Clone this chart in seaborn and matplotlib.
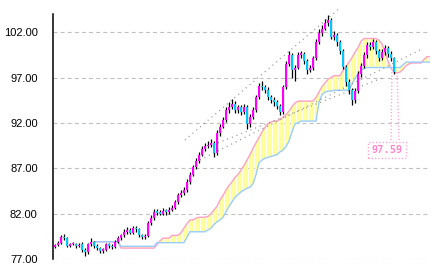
import matplotlib
matplotlib.use("Agg")
import matplotlib.pyplot as plt
import seaborn as sns
import numpy as np
import pandas as pd

# ---------------- data ----------------
closes = [78.5, 78.8, 79.4, 79.3, 78.4, 78.6, 78.7, 78.4, 78.5, 78.0,
          77.8, 78.6, 78.9, 78.4, 78.2, 77.9, 78.0, 78.6, 78.4, 78.3,
          78.9, 79.3, 79.6, 80.0, 80.2, 79.9, 80.4, 80.3, 79.6, 79.4,
          79.5, 81.0, 81.5, 82.2, 82.1, 82.0, 82.3, 82.2, 82.4, 82.6,
          83.3, 84.0, 84.3, 84.6, 85.5, 86.3, 87.1, 87.8, 88.5, 89.1,
          89.4, 89.6, 89.8, 88.7, 90.9, 91.6, 92.3, 93.4, 93.8, 94.1,
          93.4, 93.7, 93.2, 93.8, 91.9, 92.7, 93.4, 94.8, 96.1, 95.9,
          95.6, 94.8, 94.5, 94.3, 93.9, 93.2, 95.9, 98.5, 99.5, 97.8,
          98.1, 99.5, 99.6, 98.8, 97.8, 98.0, 99.1, 100.9, 101.9, 102.4,
          103.0, 103.3, 101.5, 101.7, 100.9, 99.9, 98.2, 96.5, 95.6, 94.5,
          95.5, 97.4, 98.3, 99.5, 100.6, 100.4, 100.9, 99.9, 99.1, 99.8,
          100.3, 99.6, 99.1, 97.59]
opens = [78.3, 78.5, 78.8, 79.4, 79.3, 78.4, 78.6, 78.7, 78.4, 78.6,
         78.0, 77.8, 78.6, 78.9, 78.4, 78.2, 77.9, 78.0, 78.6, 78.4,
         78.3, 78.9, 79.3, 79.6, 80.0, 80.2, 79.9, 80.4, 80.3, 79.6,
         79.4, 79.5, 81.0, 81.5, 82.2, 82.1, 82.0, 82.3, 82.2, 82.4,
         82.6, 83.3, 84.0, 84.3, 84.6, 85.5, 86.3, 87.1, 87.8, 88.5,
         89.1, 89.4, 89.6, 89.8, 88.7, 90.9, 91.6, 92.3, 93.4, 93.8,
         94.1, 93.4, 93.7, 93.2, 93.8, 91.9, 92.7, 93.4, 94.8, 96.1,
         95.9, 95.6, 94.8, 94.5, 94.3, 93.9, 93.2, 95.9, 98.5, 99.5,
         97.8, 98.1, 99.5, 99.6, 98.8, 97.8, 98.0, 99.1, 100.9, 101.9,
         102.4, 103.0, 103.3, 101.5, 101.7, 100.9, 99.9, 98.2, 96.5, 95.6,
         94.5, 95.5, 97.4, 98.3, 99.5, 100.6, 100.4, 100.9, 99.9, 99.1,
         99.8, 100.3, 99.6, 99.1]
highs = [78.7, 79.0, 79.6, 79.7, 79.4, 78.8, 78.9, 78.8, 78.8, 78.9,
         78.2, 78.8, 79.3, 79.0, 78.6, 78.3, 78.2, 78.8, 78.8, 78.6,
         79.1, 79.5, 79.8, 80.3, 80.5, 80.4, 80.6, 80.6, 80.4, 79.8,
         79.8, 81.2, 81.9, 82.5, 82.5, 82.4, 82.6, 82.5, 82.7, 82.9,
         83.5, 84.3, 84.6, 84.9, 85.8, 86.6, 87.4, 88.1, 88.8, 89.4,
         89.8, 90.0, 90.2, 90.0, 91.2, 91.9, 92.7, 93.8, 94.3, 94.6,
         94.4, 94.0, 94.0, 94.1, 94.0, 93.0, 93.7, 95.1, 96.4, 96.6,
         96.2, 95.9, 95.1, 94.8, 94.5, 94.1, 96.2, 98.8, 99.9, 99.7,
         98.4, 99.8, 99.9, 99.8, 99.0, 98.4, 99.4, 101.2, 102.3, 102.8,
         103.4, 103.9, 103.6, 102.1, 101.9, 101.1, 100.1, 98.4, 96.8, 95.8,
         95.8, 97.7, 98.6, 99.8, 100.9, 100.9, 101.3, 101.1, 100.1, 100.1,
         100.6, 100.5, 99.9, 99.3]
lows = [78.2, 78.4, 78.7, 79.1, 78.3, 78.3, 78.5, 78.2, 78.3, 77.8,
        77.3, 77.6, 78.4, 78.2, 78.0, 77.7, 77.7, 77.9, 78.2, 78.1,
        78.2, 78.8, 79.1, 79.4, 79.8, 79.7, 79.8, 80.0, 79.4, 79.2,
        79.2, 79.4, 80.8, 81.3, 81.8, 81.8, 81.8, 81.9, 82.0, 82.3,
        82.5, 83.1, 83.8, 84.1, 84.4, 85.3, 86.1, 86.9, 87.6, 88.3,
        88.9, 89.2, 89.3, 88.2, 88.5, 90.6, 91.4, 92.1, 93.1, 93.5,
        93.1, 93.1, 92.9, 93.0, 91.3, 91.6, 92.4, 93.2, 94.6, 95.6,
        95.3, 94.5, 94.2, 93.9, 93.5, 92.9, 93.0, 95.7, 98.3, 97.0,
        96.6, 97.9, 99.2, 98.5, 97.4, 97.6, 97.8, 98.9, 100.7, 101.6,
        102.2, 102.7, 101.2, 101.1, 100.5, 99.6, 97.9, 96.1, 95.2, 94.0,
        94.2, 95.3, 97.1, 98.1, 99.2, 100.0, 100.1, 99.6, 98.8, 98.9,
        99.5, 99.3, 98.8, 97.4]

cloud_start = 13
span_a = [78.9, 78.9, 78.9, 78.9, 78.9, 78.9, 78.9, 78.9, 78.9,
          78.2, 78.2, 78.2, 78.2, 78.2, 78.2, 78.2, 78.2, 78.2, 78.2, 78.2, 78.2,
          78.6, 79.0, 79.3, 79.3, 79.3, 79.6, 79.6, 79.6, 79.9, 80.4,
          80.9, 81.3, 81.3, 81.5, 81.6, 81.6, 81.6, 81.7, 82.0, 82.4,
          82.8, 83.5, 84.0, 84.6, 85.1, 85.5, 86.0, 86.3, 86.8, 87.3,
          87.9, 88.5, 89.2, 89.8, 90.4, 91.0, 91.5, 91.9, 92.1, 92.2,
          92.2, 92.4, 92.6, 92.9, 93.3, 93.8, 94.2, 94.4, 94.4, 94.4,
          94.4, 94.4, 94.4, 94.8, 95.4, 96.0, 96.4, 96.8, 97.0, 97.2,
          97.2, 97.2, 97.8, 98.2, 98.7, 99.2, 99.8, 100.3, 101.0, 101.3,
          101.3, 101.3, 101.3, 101.3, 101.1, 100.7, 99.8, 98.8, 98.0, 97.6,
          97.5, 97.6, 97.9, 98.3, 98.5, 98.6, 98.6, 98.6, 98.6, 99.0,
          99.3, 99.3]
span_b = [78.9, 78.9, 78.9, 78.9, 78.9, 78.9, 78.9, 78.9, 78.9,
          78.4, 78.4, 78.4, 78.4, 78.4, 78.4, 78.4, 78.4, 78.4, 78.4, 78.4, 78.4,
          78.8, 78.8, 78.8, 78.8, 78.8, 78.8, 78.8, 78.8, 78.8, 78.8,
          79.4, 80.0, 80.0, 80.0, 80.0, 80.0, 80.0,
          80.2, 80.4, 80.8, 81.1, 81.3, 81.6, 82.2, 82.8, 83.3, 83.8,
          84.1, 84.4, 84.6, 84.8, 84.9, 85.3, 86.3, 87.6, 87.9, 88.1,
          88.2, 88.3, 88.4, 88.5, 88.8, 89.0, 89.4, 90.0, 91.0, 91.9, 92.0,
          92.2, 92.2, 92.2, 92.2, 92.2, 92.2,
          94.3, 95.1, 95.4, 95.5, 95.5,
          95.6, 95.6, 95.6, 95.6, 95.6, 95.6,
          96.3, 96.9, 97.4, 97.8, 98.0,
          98.1, 98.1, 98.1, 98.1, 98.1, 98.1, 98.1, 98.1, 98.1, 98.1, 98.1, 98.1,
          98.4,
          98.7, 98.7, 98.7, 98.7, 98.7, 98.7, 98.7, 98.7, 98.7]

# trend lines: x (index) pairs and y (value) pairs
trend_x = [[43.3, 95.0], [48.3, 121.7], [54.3, 110.0]]
trend_y = [[90.12, 104.67], [87.92, 100.04], [89.8, 97.07]]

ytick_vals = [77, 82, 87, 92, 97, 102]
last_label = "97.59"

# ---------------- style ----------------
sns.set_theme(style="white")
plt.rcParams["font.family"] = ["Liberation Sans", "DejaVu Sans"]

fig = plt.figure(figsize=(4.33, 2.73), dpi=100)
ax = fig.add_axes([53 / 433, 1 - 259 / 273, (430 - 53) / 433, (259 - 14) / 273])
ax.set_facecolor("white")

n = len(closes)
idx = np.arange(n)
c_idx = np.arange(cloud_start, cloud_start + len(span_a))

# grid
for v in ytick_vals:
    ax.axhline(v, color="#C0C0C0", lw=0.8, ls=(0, (3.6, 2.8)), zorder=0)

# cloud stripes
lo = np.minimum(span_a, span_b)
hi = np.maximum(span_a, span_b)
ax.vlines(c_idx, lo, hi, color="#FFFF99", lw=1.5, zorder=1)
cloud_df = pd.DataFrame({"i": np.concatenate([c_idx, c_idx]),
                         "v": np.concatenate([span_a, span_b]),
                         "s": ["A"] * len(span_a) + ["B"] * len(span_b)})
sns.lineplot(data=cloud_df, x="i", y="v", hue="s",
             palette={"A": "#FFA0C8", "B": "#99CCFF"}, lw=1.0,
             legend=False, ax=ax, zorder=2)

# trend lines
for tx, ty in zip(trend_x, trend_y):
    ax.plot(tx, ty, color="#8C8C8C", lw=0.9, ls=(0, (0.8, 3.2)),
            zorder=2, clip_on=False)

# candles
ax.vlines(idx, lows, highs, color="black", lw=0.9, zorder=3)
o = np.array(opens)
c = np.array(closes)
up = c >= o
body_h = np.where(np.abs(c - o) < 0.15, 0.15, np.abs(c - o))
ax.bar(idx[up], body_h[up], bottom=np.minimum(o, c)[up], width=0.72,
       color="#FF00FF", lw=0, zorder=4)
ax.bar(idx[~up], body_h[~up], bottom=np.minimum(o, c)[~up], width=0.72,
       color="#00C8FF", lw=0, zorder=4)

# last price callout
last_i = n - 1
box_x = last_i - 2.3
box_y = 89.0
ax.plot([last_i - 0.7, last_i - 1.0], [closes[-1], 89.9], color="#FF99CC",
        lw=1.0, ls=(0, (0.8, 1.6)), zorder=5)
ax.plot([last_i + 1.0, last_i + 1.7], [closes[-1], 89.9], color="#FF99CC",
        lw=1.0, ls=(0, (0.8, 1.6)), zorder=5)
ax.text(box_x, box_y, last_label, color="#FF88CC", fontsize=7.5,
        fontweight="bold", family=["DejaVu Sans Mono"], ha="center", va="center",
        zorder=6,
        bbox=dict(boxstyle="square,pad=0.3", fc="white", ec="#FF99CC",
                  ls=(0, (0.8, 1.6)), lw=1.0))

# axes
ax.set_xlim(-0.667, 125)
ax.set_ylim(77, 104)
ax.set_yticks(ytick_vals)
ax.set_yticklabels([f"{v:.2f}" for v in ytick_vals], fontsize=8)
ax.set_xticks([])
ax.tick_params(axis="y", length=0, pad=11, colors="black")
ax.set_xlabel("")
ax.set_ylabel("")
for s in ["top", "right", "bottom"]:
    ax.spines[s].set_visible(False)
ax.spines["left"].set_color("black")
ax.spines["left"].set_linewidth(1.1)

fig.savefig("out.png", dpi=100, facecolor="white")
